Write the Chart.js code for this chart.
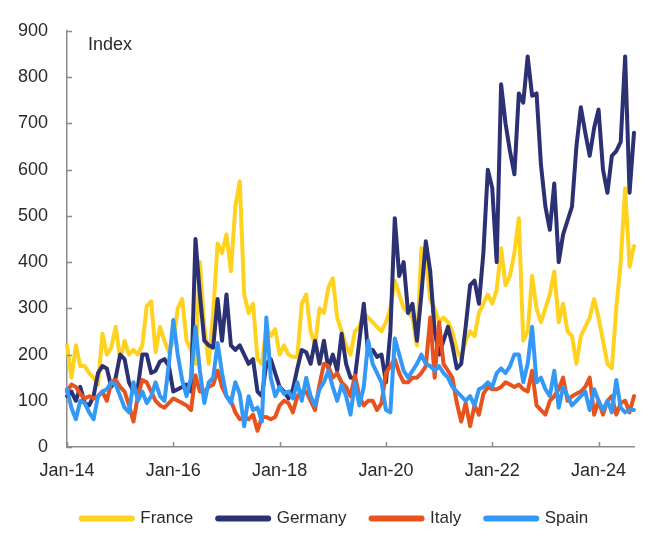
<!DOCTYPE html>
<html>
<head>
  <script src="https://cdn.jsdelivr.net/npm/chart.js"></script>
  <style>
    body { margin: 0; background: #fff; }
  </style>
</head>
<body>
  <canvas id="chart" width="652" height="545"></canvas>

  <script>
    // monthly categories, Jan-14 .. Sep-24
    var monthNames = ['Jan','Feb','Mar','Apr','May','Jun','Jul','Aug','Sep','Oct','Nov','Dec'];
    var startYear = 14;
    var nMonths = 129;
    var months = [];
    for (var i = 0; i < nMonths; i++) {
      months.push(monthNames[i % 12] + '-' + (startYear + Math.floor(i / 12)));
    }
    var tickLabels = ['Jan-14', 'Jan-16', 'Jan-18', 'Jan-20', 'Jan-22', 'Jan-24'];

    var france = [
      220,150,220,175,175,160,150,135,245,200,215,260,
      190,230,200,210,200,220,305,315,205,260,230,205,
      230,300,320,230,210,180,400,260,180,290,440,420,
      460,380,520,575,330,290,310,190,180,260,240,255,
      200,220,200,195,195,310,330,250,220,300,290,345,
      365,280,250,220,200,250,260,290,280,270,260,250,
      270,300,360,330,300,290,280,220,430,410,320,300,
      270,280,270,250,210,190,230,250,240,290,310,330,
      310,340,430,350,370,420,495,230,250,370,300,270,
      300,330,380,270,310,250,240,180,240,260,280,320,
      280,230,180,170,300,400,560,390,435
    ];
    var germany = [
      110,120,100,130,95,90,110,160,175,170,130,150,
      200,190,140,120,130,200,200,160,165,185,190,175,
      120,125,130,135,120,450,330,230,220,215,320,230,
      330,220,210,220,200,180,190,120,110,180,190,160,
      130,120,105,125,170,210,205,180,230,180,230,170,
      200,165,245,180,150,150,230,310,200,210,195,200,
      140,250,495,370,400,290,310,230,330,445,380,250,
      200,230,260,220,170,180,260,350,360,310,420,600,
      560,400,785,700,640,590,765,745,845,760,765,610,
      520,470,570,400,460,490,520,650,735,680,630,690,
      730,600,550,630,640,660,845,550,680
    ];
    var italy = [
      120,135,130,115,105,110,105,110,120,100,140,145,
      130,120,90,55,110,145,140,120,100,90,85,95,
      105,100,95,90,80,155,120,120,130,135,165,130,
      110,100,75,60,65,60,70,35,65,65,60,65,
      90,100,95,75,110,120,120,100,80,135,180,175,
      150,160,140,130,110,155,110,90,100,100,80,95,
      160,175,190,160,140,140,150,150,160,175,280,150,
      270,180,165,150,95,55,95,45,90,70,115,130,
      125,125,130,140,135,130,135,125,120,165,90,80,
      70,100,110,125,150,100,110,115,120,130,150,70,
      100,70,100,110,70,95,100,75,110
    ];
    var spain = [
      125,85,60,100,95,75,60,110,120,125,140,135,
      110,85,75,140,100,120,95,110,140,110,100,180,
      275,200,145,110,150,260,165,95,140,150,225,160,
      110,95,140,115,45,110,80,85,55,280,150,110,
      130,115,120,105,140,100,150,110,90,125,140,165,
      130,100,135,110,70,140,90,130,230,180,160,140,
      80,75,235,200,165,150,165,180,200,180,175,165,
      175,160,150,130,120,110,100,110,90,125,130,140,
      130,160,170,160,175,200,200,140,180,260,140,150,
      125,110,165,85,130,110,90,100,110,120,80,125,
      100,80,100,75,145,85,75,80,80
    ];

    var seriesNames = ['France', 'Germany', 'Italy', 'Spain'];
    var seriesData = [france, germany, italy, spain];
    var seriesColors = ['#FFD21F', '#2C3173', '#E8531D', '#3498F7'];

    var fontFamily = "'Liberation Sans', Arial, sans-serif";
    var textColor = '#2a2a2a';
    var axisColor = '#8c8c8c';

    // legend sits a bit right of the canvas centre in the original
    var legendShift = 18;

    // ticks drawn inside the plot + the "Index" caption
    var extrasPlugin = {
      id: 'extras',
      afterLayout: function(chart) {
        chart.legend.left += legendShift;
        chart.legend.right += legendShift;
      },
      afterDraw: function(chart) {
        var ctx = chart.ctx;
        var xs = chart.scales.x, ys = chart.scales.y;
        var area = chart.chartArea;
        ctx.save();
        ctx.strokeStyle = axisColor;
        ctx.lineWidth = 1.5;
        ctx.beginPath();
        ys.ticks.forEach(function(t) {
          var py = Math.round(ys.getPixelForValue(t.value)) + 0.5;
          ctx.moveTo(area.left, py);
          ctx.lineTo(area.left + 5, py);
        });
        months.forEach(function(m, idx) {
          if (tickLabels.indexOf(m) >= 0) {
            var px = Math.round(xs.getPixelForValue(idx)) + 0.5;
            ctx.moveTo(px, area.bottom);
            ctx.lineTo(px, area.bottom - 5);
          }
        });
        ctx.stroke();
        ctx.fillStyle = textColor;
        ctx.font = '18px ' + fontFamily;
        ctx.textBaseline = 'middle';
        ctx.textAlign = 'left';
        ctx.fillText('Index', area.left + 21, area.top + 14);
        ctx.restore();
      }
    };

    var datasets = seriesNames.map(function(name, k) {
      return {
        label: name,
        data: seriesData[k],
        borderColor: seriesColors[k],
        backgroundColor: seriesColors[k],
        borderWidth: 4,
        pointRadius: 0,
        tension: 0,
        borderJoinStyle: 'round',
        borderCapStyle: 'round',
        order: seriesNames.length - k
      };
    });

    new Chart(document.getElementById('chart'), {
      type: 'line',
      data: { labels: months, datasets: datasets },
      plugins: [extrasPlugin],
      options: {
        responsive: false,
        animation: false,
        layout: { padding: { top: 31, right: 18, bottom: 8, left: 0 } },
        scales: {
          x: {
            grid: { display: false, drawTicks: false },
            border: { display: true, color: axisColor, width: 1.5 },
            afterFit: function(scale) { scale.height = 38; },
            ticks: {
              autoSkip: false,
              maxRotation: 0,
              padding: 13,
              color: textColor,
              font: { family: fontFamily, size: 18 },
              callback: function(val, idx) {
                var lab = months[idx];
                return tickLabels.indexOf(lab) >= 0 ? lab : null;
              }
            }
          },
          y: {
            min: 0,
            max: 900,
            grid: { display: false, drawTicks: false },
            border: { display: true, color: axisColor, width: 1.5 },
            afterFit: function(scale) { scale.width = 67; },
            ticks: {
              stepSize: 100,
              padding: 19,
              color: textColor,
              font: { family: fontFamily, size: 18 }
            }
          }
        },
        plugins: {
          legend: {
            position: 'bottom',
            labels: {
              usePointStyle: true,
              pointStyle: 'line',
              pointStyleWidth: 50,
              padding: 25,
              color: textColor,
              font: { family: fontFamily, size: 17 },
              sort: function(a, b) { return a.datasetIndex - b.datasetIndex; },
              generateLabels: function(chart) {
                var items = Chart.defaults.plugins.legend.labels.generateLabels(chart);
                items.forEach(function(it) { it.lineWidth = 6; it.lineCap = 'round'; });
                return items;
              }
            }
          },
          tooltip: { enabled: false }
        }
      }
    });
  </script>
</body>
</html>
